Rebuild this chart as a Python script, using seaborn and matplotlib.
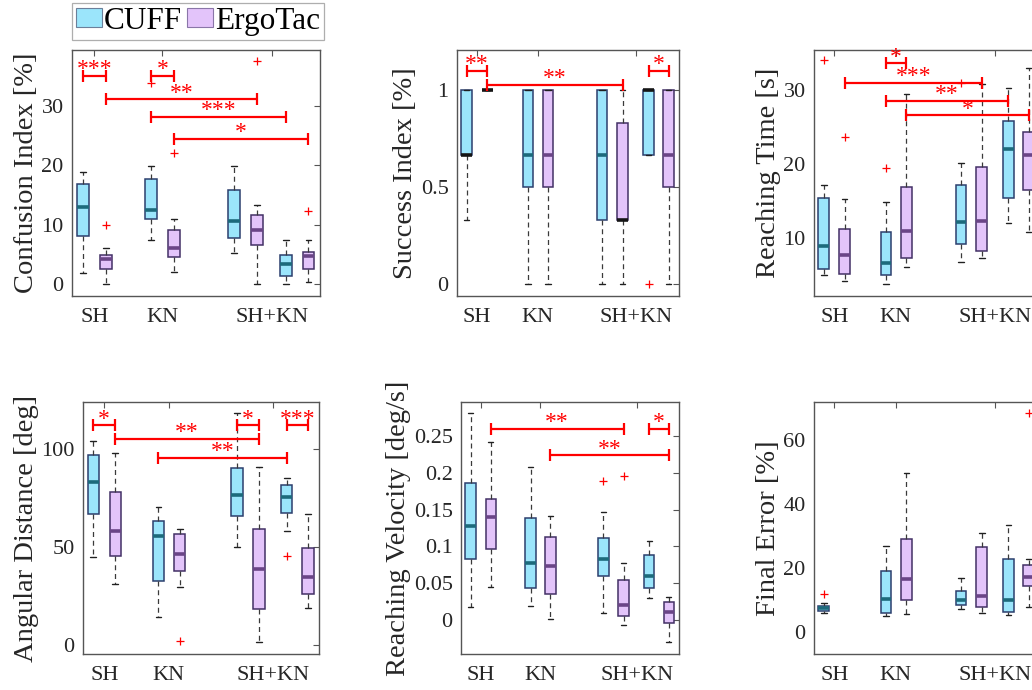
import numpy as np
import pandas as pd
import matplotlib
matplotlib.use("Agg")
import matplotlib.pyplot as plt
from matplotlib.patches import Patch
import seaborn as sns

# ---------------- data ----------------
devices = ["CUFF", "ErgoTac"]
box_device = ["CUFF", "ErgoTac", "CUFF", "ErgoTac", "CUFF", "ErgoTac", "CUFF", "ErgoTac"]
box_pos = [0.83, 1.17, 1.84, 2.17, 3.06, 3.40, 3.83, 4.16]
cond_ticks = [1.0, 2.0, 3.62]
cond_labels = ["SH", "KN", "SH+KN"]

# Confusion Index [%]
ci_low = [1.9, 0.0, 7.5, 2.1, 5.3, 0.0, 0.0, 0.3]
ci_q1 = [8.1, 2.5, 10.9, 4.6, 7.8, 6.6, 1.4, 2.6]
ci_med = [13.0, 4.15, 12.5, 6.0, 10.6, 9.1, 3.4, 4.7]
ci_q3 = [16.85, 4.9, 17.7, 9.1, 15.8, 11.6, 4.9, 5.4]
ci_high = [18.9, 6.1, 19.8, 11.0, 19.8, 13.3, 7.4, 7.4]
ci_out_box = [1, 2, 3, 5, 7]
ci_out_val = [9.9, 33.9, 22.1, 37.6, 12.3]
ci_sig_a = [0, 2, 1, 2, 3]
ci_sig_b = [1, 3, 5, 6, 7]
ci_sig_y = [35.0, 35.0, 31.1, 28.1, 24.4]
ci_sig_txt = ["***", "*", "**", "***", "*"]
ci_yticks = [0, 10, 20, 30]
ci_yticklabels = ["0", "10", "20", "30"]

# Success Index [%]
si_low = [0.333, 1.0, 0.0, 0.0, 0.0, 0.0, 0.667, 0.0]
si_q1 = [0.667, 1.0, 0.5, 0.5, 0.333, 0.333, 0.667, 0.5]
si_med = [0.667, 1.0, 0.667, 0.667, 0.667, 0.333, 1.0, 0.667]
si_q3 = [1.0, 1.0, 1.0, 1.0, 1.0, 0.833, 1.0, 1.0]
si_high = [1.0, 1.0, 1.0, 1.0, 1.0, 1.0, 1.0, 1.0]
si_out_box = [6]
si_out_val = [0.0]
si_sig_a = [0, 1, 6]
si_sig_b = [1, 5, 7]
si_sig_y = [1.098, 1.029, 1.098]
si_sig_txt = ["**", "**", "*"]
si_yticks = [0, 0.5, 1]
si_yticklabels = ["0", "0.5", "1"]

# Reaching Time [s]
rt_low = [4.92, 4.15, 3.7, 5.96, 6.65, 7.2, 12.0, 10.8]
rt_q1 = [5.78, 5.06, 5.0, 7.3, 9.2, 8.2, 15.3, 16.5]
rt_med = [8.87, 7.6, 6.5, 10.9, 12.1, 12.3, 22.0, 21.2]
rt_q3 = [15.35, 11.2, 10.7, 16.85, 17.1, 19.6, 25.8, 24.3]
rt_high = [17.1, 15.2, 14.8, 29.4, 20.1, 30.8, 30.3, 32.9]
rt_out_box = [0, 1, 2, 4]
rt_out_val = [34.0, 23.65, 19.4, 30.9]
rt_sig_a = [2, 1, 2, 3]
rt_sig_b = [3, 5, 6, 7]
rt_sig_y = [33.6, 31.0, 28.5, 26.55]
rt_sig_txt = ["*", "***", "**", "*"]
rt_yticks = [10, 20, 30]
rt_yticklabels = ["10", "20", "30"]

# Angular Distance [deg]
ad_low = [45.2, 31.3, 14.6, 29.9, 50.0, 1.5, 58.5, 18.9]
ad_q1 = [66.7, 45.6, 32.7, 37.8, 65.8, 18.4, 67.5, 26.2]
ad_med = [83.2, 58.2, 55.8, 46.4, 76.4, 39.1, 75.5, 35.0]
ad_q3 = [97.1, 78.1, 63.4, 56.5, 90.3, 59.2, 81.8, 49.8]
ad_high = [104.3, 98.0, 70.4, 59.4, 118.4, 90.8, 85.2, 66.7]
ad_out_box = [3, 6]
ad_out_val = [2.4, 45.4]
ad_sig_a = [0, 4, 6, 1, 2]
ad_sig_b = [1, 5, 7, 5, 6]
ad_sig_y = [112.1, 112.1, 112.1, 105.4, 95.4]
ad_sig_txt = ["*", "*", "***", "**", "**"]
ad_yticks = [0, 50, 100]
ad_yticklabels = ["0", "50", "100"]

# Reaching Velocity [deg/s]
rv_low = [0.018, 0.0453, 0.0195, 0.001, 0.009, -0.0068, 0.030, -0.0294]
rv_q1 = [0.0824, 0.096, 0.043, 0.036, 0.060, 0.0054, 0.043, -0.0045]
rv_med = [0.128, 0.140, 0.078, 0.074, 0.083, 0.021, 0.060, 0.0104]
rv_q3 = [0.186, 0.164, 0.138, 0.113, 0.111, 0.055, 0.088, 0.024]
rv_high = [0.281, 0.242, 0.208, 0.141, 0.147, 0.077, 0.108, 0.031]
rv_out_box = [4, 5]
rv_out_val = [0.189, 0.195]
rv_sig_a = [1, 6, 3]
rv_sig_b = [5, 7, 7]
rv_sig_y = [0.260, 0.260, 0.2237]
rv_sig_txt = ["**", "*", "**"]
rv_yticks = [0, 0.05, 0.1, 0.15, 0.2, 0.25]
rv_yticklabels = ["0", "0.05", "0.1", "0.15", "0.2", "0.25"]

# Final Error [%]
fe_low = [5.8, np.nan, 5.0, 5.6, 7.1, 6.0, 5.3, 7.9]
fe_q1 = [6.6, np.nan, 5.8, 10.0, 8.4, 7.9, 6.1, 14.2]
fe_med = [7.4, np.nan, 10.2, 16.5, 10.0, 11.25, 10.0, 17.0]
fe_q3 = [8.2, np.nan, 19.0, 29.0, 12.8, 26.5, 22.8, 20.8]
fe_high = [9.0, np.nan, 26.9, 49.6, 16.7, 30.8, 33.3, 22.9]
fe_out_box = [0, 7]
fe_out_val = [11.8, 68.3]
fe_sig_a = []
fe_sig_b = []
fe_sig_y = []
fe_sig_txt = []
fe_yticks = [0, 20, 40, 60]
fe_yticklabels = ["0", "20", "40", "60"]

# ---------------- style ----------------
sns.set_style("white")
plt.rcParams["font.family"] = ["Liberation Serif", "DejaVu Serif"]
plt.rcParams["text.color"] = "#262626"

fill_col = {"CUFF": "#9BE5FB", "ErgoTac": "#E3C4FA"}
edge_col = {"CUFF": "#2B3F6E", "ErgoTac": "#433066"}
med_col = {"CUFF": "#1D6A7C", "ErgoTac": "#6A4587"}
MED_LW = 2.6
BOX_W = 0.175
XLIM = (0.67, 4.33)


def draw_panel(ax, low, q1, med, q3, high, out_box, out_val,
               sig_a, sig_b, sig_y, sig_txt, ylim, yticks, yticklabels, ylabel):
    rows = []
    edge_medians = []  # (pos, median) where the median coincides with a box edge
    for i in range(len(box_pos)):
        vals = [low[i], q1[i], med[i], q3[i], high[i]]
        if np.any(np.isnan(vals)):
            continue
        for v in vals:
            rows.append({"pos": box_pos[i], "value": v, "device": box_device[i]})
        if np.isclose(med[i], q1[i]) or np.isclose(med[i], q3[i]):
            edge_medians.append((box_pos[i], med[i]))
    df = pd.DataFrame(rows)
    for dev in devices:
        sub = df[df["device"] == dev]
        upos = np.unique(sub["pos"].to_numpy())
        nw = np.min(np.diff(upos)) if len(upos) > 1 else 1.0
        sns.boxplot(
            data=sub, x="pos", y="value", orient="x", native_scale=True,
            whis=(0, 100), width=BOX_W / nw, color=fill_col[dev], saturation=1,
            linecolor=edge_col[dev], linewidth=1.1, ax=ax,
            medianprops=dict(color=med_col[dev], linewidth=MED_LW),
            whiskerprops=dict(color="#3a3a3a", linestyle=(0, (4, 3)), linewidth=0.9),
            capprops=dict(color="#202020", linewidth=1.0),
        )
    # medians lying on a box edge are rendered almost black in the reference
    for ln in ax.lines:
        if abs(ln.get_linewidth() - MED_LW) > 1e-6:
            continue
        xd, yd = np.asarray(ln.get_xdata(), float), np.asarray(ln.get_ydata(), float)
        if len(xd) < 2:
            continue
        for p, m in edge_medians:
            if np.isclose(np.mean(xd), p, atol=0.02) and np.isclose(yd[0], m):
                ln.set_color("#151515")
    # outliers
    odf = pd.DataFrame({"pos": [box_pos[b] for b in out_box], "value": out_val})
    if len(odf):
        sns.scatterplot(data=odf, x="pos", y="value", marker="+", color="red",
                        s=36, linewidth=0.9, ax=ax, zorder=5, legend=False)
    # significance bars
    for a, b, y, t in zip(sig_a, sig_b, sig_y, sig_txt):
        xa, xb = box_pos[a], box_pos[b]
        ax.plot([xa, xb], [y, y], color="red", lw=1.6, marker="|", ms=8.5,
                mew=1.6, solid_capstyle="butt", zorder=6, clip_on=False)
        ax.annotate(t, xy=((xa + xb) / 2, y), xytext=(0, 0.5),
                    textcoords="offset points", ha="center", va="baseline",
                    color="red", fontsize=17, zorder=7)
    ax.set_xlim(*XLIM)
    ax.set_ylim(*ylim)
    ax.set_xticks(cond_ticks)
    ax.set_xticklabels(cond_labels)
    ax.set_yticks(yticks)
    ax.set_yticklabels(yticklabels)
    ax.set_xlabel("")
    ax.set_ylabel(ylabel, fontsize=20.5, labelpad=2, color="#262626")
    ax.tick_params(axis="both", direction="in", top=True, right=True, length=4,
                   width=0.8, color="#555555", labelsize=16, labelcolor="#262626")
    ax.tick_params(axis="x", pad=9)
    ax.tick_params(axis="y", pad=6)
    for sp in ax.spines.values():
        sp.set_color("#555555")
        sp.set_linewidth(1.0)
        sp.set_visible(True)


fig = plt.figure(figsize=(10.32, 6.90), dpi=100)
W, H = 1032.0, 690.0


def axes_px(x0, y0, x1, y1):
    return fig.add_axes([x0 / W, 1 - y1 / H, (x1 - x0) / W, (y1 - y0) / H])


ax1 = axes_px(72, 50, 320, 296)
ax2 = axes_px(457, 50, 679, 296)
ax3 = axes_px(814, 50, 1039, 296)
ax4 = axes_px(83, 402, 319, 654)
ax5 = axes_px(461, 402, 679, 654)
ax6 = axes_px(814, 402, 1039, 654)

draw_panel(ax1, ci_low, ci_q1, ci_med, ci_q3, ci_high, ci_out_box, ci_out_val,
           ci_sig_a, ci_sig_b, ci_sig_y, ci_sig_txt, (-2, 39.4), ci_yticks,
           ci_yticklabels, "Confusion Index [%]")
draw_panel(ax2, si_low, si_q1, si_med, si_q3, si_high, si_out_box, si_out_val,
           si_sig_a, si_sig_b, si_sig_y, si_sig_txt, (-0.06, 1.207), si_yticks,
           si_yticklabels, "Success Index [%]")
draw_panel(ax3, rt_low, rt_q1, rt_med, rt_q3, rt_high, rt_out_box, rt_out_val,
           rt_sig_a, rt_sig_b, rt_sig_y, rt_sig_txt, (2.1, 35.4), rt_yticks,
           rt_yticklabels, "Reaching Time [s]")
draw_panel(ax4, ad_low, ad_q1, ad_med, ad_q3, ad_high, ad_out_box, ad_out_val,
           ad_sig_a, ad_sig_b, ad_sig_y, ad_sig_txt, (-4.4, 124), ad_yticks,
           ad_yticklabels, "Angular Distance [deg]")
draw_panel(ax5, rv_low, rv_q1, rv_med, rv_q3, rv_high, rv_out_box, rv_out_val,
           rv_sig_a, rv_sig_b, rv_sig_y, rv_sig_txt, (-0.046, 0.296), rv_yticks,
           rv_yticklabels, "Reaching Velocity [deg/s]")
draw_panel(ax6, fe_low, fe_q1, fe_med, fe_q3, fe_high, fe_out_box, fe_out_val,
           fe_sig_a, fe_sig_b, fe_sig_y, fe_sig_txt, (-6.9, 71.8), fe_yticks,
           fe_yticklabels, "Final Error [%]")

handles = [Patch(facecolor=fill_col[d], edgecolor="#6b7f9a" if d == "CUFF" else "#8a76a8",
                 linewidth=0.8) for d in devices]
leg = fig.legend(handles, devices, loc="upper left", bbox_to_anchor=(72 / W, 1 - 3 / H),
                 ncol=2, fontsize=22.5, frameon=True, fancybox=False,
                 edgecolor="#9a9a9a", handlelength=0.85, handleheight=0.58,
                 handletextpad=0.05, columnspacing=0.15, borderpad=0.12,
                 borderaxespad=0)
leg.get_frame().set_linewidth(0.9)
for t in leg.get_texts():
    t.set_color("black")

fig.savefig("out.png", dpi=100)
